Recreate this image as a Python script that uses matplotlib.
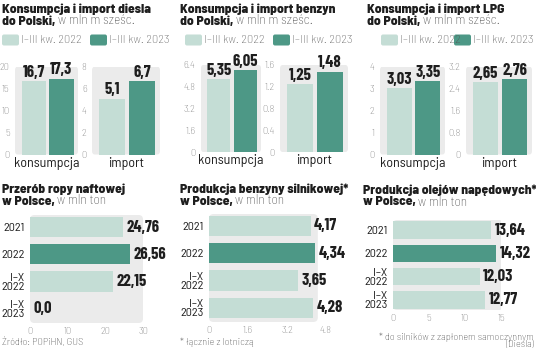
import matplotlib
matplotlib.use('Agg')
import matplotlib.pyplot as plt
from matplotlib.patches import FancyBboxPatch

# -------------------------------
# dane
# -------------------------------
legend_labels = ['I–III kw. 2022', 'I–III kw. 2023']
top_groups = ['konsumpcja', 'import']

diesel_kons = [16.7, 17.3]
diesel_imp = [5.1, 6.7]
benz_kons = [5.35, 6.05]
benz_imp = [1.25, 1.48]
lpg_kons = [3.03, 3.35]
lpg_imp = [2.65, 2.76]

diesel_kons_ticks = [0, 5, 10, 15, 20]
diesel_imp_ticks = [0, 2, 4, 6, 8]
benz_kons_ticks = [0, 1.6, 3.2, 4.8, 6.4]
benz_imp_ticks = [0, 0.4, 0.8, 1.2, 1.6]
lpg_kons_ticks = [0, 1, 2, 3, 4]
lpg_imp_ticks = [0, 0.8, 1.6, 2.4, 3.2]

years = ['2021', '2022', 'I–X\n2022', 'I–X\n2023']
ropa = [24.76, 26.56, 22.15, 0.0]
benzyna = [4.17, 4.34, 3.65, 4.28]
oleje = [13.64, 14.32, 12.03, 12.77]
ropa_ticks = [0, 10, 20, 30]
benzyna_ticks = [0, 1.6, 3.2, 4.8]
oleje_ticks = [0, 5, 10, 15]

# -------------------------------
# styl
# -------------------------------
LIGHT = '#c4ddd5'
DARK = '#4d9886'
GREY = '#ebebeb'
TXT = '#1e1e1e'
TICK = '#777777'
SEMI = ['Barlow Semi Condensed', 'DejaVu Sans']
COND = ['Barlow Condensed', 'DejaVu Sans']

W, H = 536, 349
fig = plt.figure(figsize=(W / 100, H / 100), dpi=100)
fig.patch.set_facecolor('white')

# nakladka w pikselach na teksty i legendy
ov = fig.add_axes([0, 0, 1, 1])
ov.set_xlim(0, W)
ov.set_ylim(H, 0)
ov.axis('off')
ov.patch.set_alpha(0)

renderer = fig.canvas.get_renderer()


def px_axes(x0, y0, x1, y1):
    return fig.add_axes([x0 / W, 1 - y1 / H, (x1 - x0) / W, (y1 - y0) / H])


def fmt(v, d):
    if v == 0:
        return '0,0'
    return f'{v:.{d}f}'.replace('.', ',')


def title(x, y, line1, bold2, rest):
    ov.text(x, y, line1, va='center', ha='left', fontsize=9.7,
            fontweight=800, family=SEMI, color=TXT)
    t = ov.text(x, y + 12, bold2, va='center', ha='left', fontsize=9.7,
                fontweight=800, family=SEMI, color=TXT)
    bb = t.get_window_extent(renderer)
    ov.text(bb.x1 + 2.5, y + 12, rest, va='center', ha='left', fontsize=9.7,
            fontweight='light', family=SEMI, color='#444444')


def legend(x_light, x_dark, y=40):
    for x, c, lab in [(x_light, LIGHT, legend_labels[0]), (x_dark, DARK, legend_labels[1])]:
        ov.add_patch(FancyBboxPatch((x, y - 5.5), 17, 11,
                                    boxstyle='round,pad=0,rounding_size=2',
                                    fc=c, ec='none'))
        ov.text(x + 19, y, lab, va='center', ha='left', fontsize=9,
                fontweight='light', family=SEMI, color='#555555')


def bg(ax, frac=1.0):
    ax.add_patch(FancyBboxPatch((0, 0), frac, 1,
                                boxstyle='round,pad=0,rounding_size=0.04',
                                transform=ax.transAxes, fc=GREY, ec='none',
                                zorder=0))


def top_pair(ax, vals, ticks, cat, d):
    ax.set_xlim(-0.68, 1.6)
    ax.set_ylim(0, ticks[-1])
    bg(ax)
    ax.bar([0, 1], vals, width=0.88, color=[LIGHT, DARK], zorder=2)
    for i, v in enumerate(vals):
        ax.text(i, v + ticks[-1] * 0.012, fmt(v, d), ha='center', va='bottom',
                fontsize=12, fontweight='bold', family=COND, color=TXT)
    ax.set_yticks(ticks)
    ax.set_yticklabels([f'{t:g}' for t in ticks], family=SEMI,
                       fontweight='light')
    ax.tick_params(axis='y', length=0, pad=4, labelcolor=TICK, labelsize=7.5)
    ax.set_xticks([])
    for s in ax.spines.values():
        s.set_visible(False)
    ax.patch.set_alpha(0)
    ax.text(0.5, -0.025, cat, transform=ax.transAxes, ha='center', va='top',
            fontsize=10, family=SEMI, color=TXT)


def bottom(ax, vals, ticks, ylim, frac=1.0):
    colors = [LIGHT, DARK, LIGHT, LIGHT]
    ax.set_xlim(0, ticks[-1])
    ax.set_ylim(*ylim)
    bg(ax, frac)
    ax.barh(range(len(vals)), vals, height=0.74, color=colors, zorder=2)
    for i, v in enumerate(vals):
        ax.annotate(fmt(v, 2), (v, i), xytext=(2.5, 0), textcoords='offset points',
                    ha='left', va='center', fontsize=12, fontweight='bold',
                    family=COND, color=TXT)
    ax.set_yticks(range(len(years)))
    ax.set_yticklabels(years, family=SEMI, fontsize=8.8, color=TXT,
                       multialignment='right', linespacing=0.9)
    ax.set_xticks(ticks)
    ax.set_xticklabels([f'{t:g}' for t in ticks], family=SEMI,
                       fontweight='light')
    ax.tick_params(axis='x', length=0, pad=3, labelcolor=TICK, labelsize=7.5)
    ax.tick_params(axis='y', length=0, pad=4)
    for s in ax.spines.values():
        s.set_visible(False)
    ax.patch.set_alpha(0)


# -------------------------------
# gorny rzad
# -------------------------------
title(2, 9, 'Konsumpcja i import diesla', 'do Polski,', 'w mln m sześc.')
legend(2, 90)
top_pair(px_axes(15, 66.7, 78, 154.5), diesel_kons, diesel_kons_ticks, top_groups[0], 1)
top_pair(px_axes(92, 66.7, 160, 154.5), diesel_imp, diesel_imp_ticks, top_groups[1], 1)

title(180, 9, 'Konsumpcja i import benzyn', 'do Polski,', 'w mln m sześc.')
legend(185, 273)
top_pair(px_axes(201, 65, 261, 152), benz_kons, benz_kons_ticks, top_groups[0], 2)
top_pair(px_axes(280, 65, 348, 152), benz_imp, benz_imp_ticks, top_groups[1], 2)

title(367, 9, 'Konsumpcja i import LPG', 'do Polski,', 'w mln m sześc.')
legend(381, 454)
top_pair(px_axes(380, 66.7, 445, 154.5), lpg_kons, lpg_kons_ticks, top_groups[0], 2)
top_pair(px_axes(466, 66.7, 532, 154.5), lpg_imp, lpg_imp_ticks, top_groups[1], 2)

# -------------------------------
# dolny rzad
# -------------------------------
title(2, 189, 'Przerób ropy naftowej', 'w Polsce,', 'w mln ton')
bottom(px_axes(30, 215, 143, 323), ropa, ropa_ticks, (3.52, -0.44))

title(180, 189, 'Produkcja benzyny silnikowej*', 'w Polsce,', 'w mln ton')
bottom(px_axes(209, 214, 326, 322), benzyna, benzyna_ticks, (3.52, -0.44), frac=0.93)

title(363, 190, 'Produkcja olejów napędowych*', 'w Polsce,', 'w mln ton')
bottom(px_axes(393, 220, 501, 310), oleje, oleje_ticks, (3.43, -0.43), frac=1.02)

# przypisy
NOTE = dict(va='center', fontsize=7.5, family=SEMI, fontweight='light', color='#444444')
ov.text(2, 342, 'Źródło: POPiHN, GUS', ha='left', **NOTE)
ov.text(180, 342, '* łącznie z lotniczą', ha='left', **NOTE)
ov.text(534, 337, '* do silników z zapłonem samoczynnym', ha='right', **NOTE)
ov.text(534, 345, '(Diesla)', ha='right', **NOTE)

fig.savefig('out.png', dpi=100)
